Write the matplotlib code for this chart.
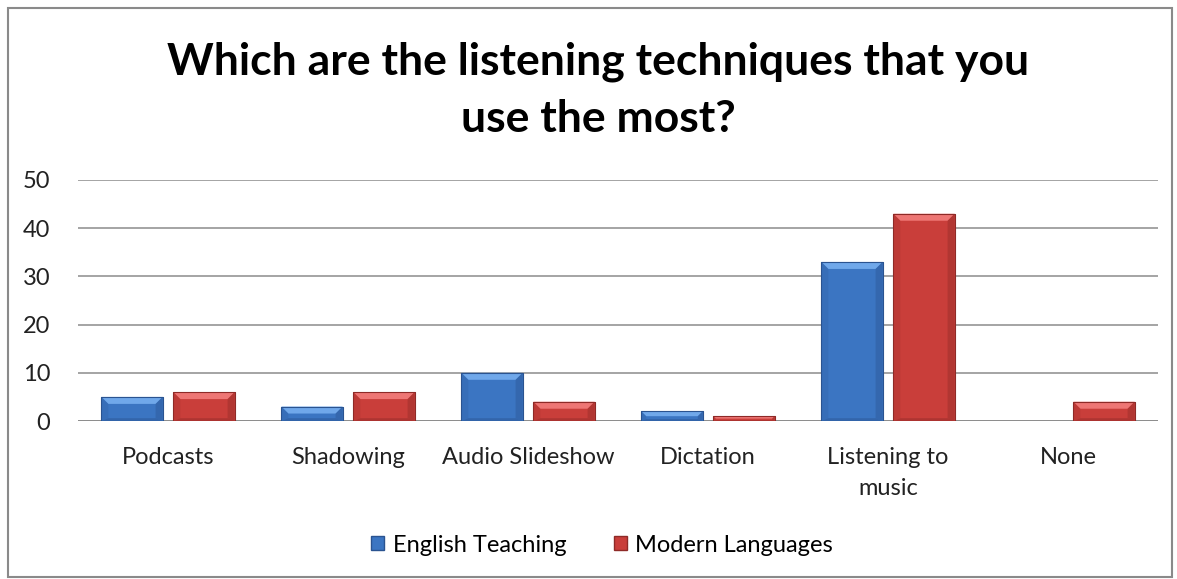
import matplotlib.pyplot as plt
import matplotlib.patches as mpatches
from matplotlib.patches import Polygon
import numpy as np

categories = ["Podcasts", "Shadowing", "Audio Slideshow", "Dictation",
              "Listening to\nmusic", "None"]
english_teaching = [5, 3, 10, 2, 33, 0]
modern_languages = [6, 6, 4, 1, 43, 4]
series_names = ["English Teaching", "Modern Languages"]

# couleurs : base, clair (biseau haut/gauche), sombre (biseau bas/droite)
BLEU = ("#3b75c2", "#70a8ea", "#2a5390")
ROUGE = ("#c93e3a", "#ee7674", "#8e2a27")

plt.rcParams['font.family'] = ['Lato', 'DejaVu Sans']

W, H = 1177, 579
fig = plt.figure(figsize=(W / 100, H / 100), dpi=100)

# cadre gris autour du graphique
fig.patches.append(mpatches.Rectangle((8 / W, 2 / H), 1164 / W, 569 / H,
                                      transform=fig.transFigure, fill=False,
                                      edgecolor="#8a8a8a", linewidth=1.5))

ax = fig.add_axes([78 / W, 158 / H, 1080 / W, 241 / H])
x = np.arange(len(categories))
largeur = 0.34
decalage = 0.2

barres1 = ax.bar(x - decalage, english_teaching, largeur, color=BLEU[0],
                 edgecolor=BLEU[2], linewidth=0.6, zorder=3)
barres2 = ax.bar(x + decalage, modern_languages, largeur, color=ROUGE[0],
                 edgecolor=ROUGE[2], linewidth=0.6, zorder=3)

ax.set_xlim(-0.5, len(categories) - 0.5)
ax.set_ylim(0, 50)

# effet de biseau sur chaque barre
px_x = (len(categories)) / 1080
px_y = 50 / 241
for barres, couleurs in [(barres1, BLEU), (barres2, ROUGE)]:
    for b in barres:
        h = b.get_height()
        if h <= 0:
            continue
        x0 = b.get_x()
        x1 = x0 + b.get_width()
        bpx = min(7, h / px_y / 2)
        bx = bpx * px_x
        by = bpx * px_y
        haut = [(x0, h), (x1, h), (x1 - bx, h - by), (x0 + bx, h - by)]
        bas = [(x0, 0), (x1, 0), (x1 - bx, by * 0.4), (x0 + bx, by * 0.4)]
        gauche = [(x0, 0), (x0 + bx, by * 0.4), (x0 + bx, h - by), (x0, h)]
        droite = [(x1, 0), (x1 - bx, by * 0.4), (x1 - bx, h - by), (x1, h)]
        ax.add_patch(Polygon(haut, closed=True, facecolor=couleurs[1],
                             edgecolor="none", zorder=4))
        ax.add_patch(Polygon(bas, closed=True, facecolor=couleurs[2],
                             edgecolor="none", alpha=0.45, zorder=4))
        ax.add_patch(Polygon(gauche, closed=True, facecolor=couleurs[2],
                             edgecolor="none", alpha=0.2, zorder=4))
        ax.add_patch(Polygon(droite, closed=True, facecolor=couleurs[2],
                             edgecolor="none", alpha=0.4, zorder=4))
        ax.add_patch(mpatches.Rectangle((x0, 0), x1 - x0, h, fill=False,
                                        edgecolor=couleurs[2], linewidth=0.8,
                                        zorder=5))

ax.set_yticks(range(0, 51, 10))
ax.yaxis.grid(True, color="#8c8c8c", linewidth=1.1, zorder=0)
ax.set_axisbelow(True)
for s in ax.spines.values():
    s.set_visible(False)
ax.axhline(0, color="#8c8c8c", linewidth=1.3, zorder=2)

ax.set_xticks(x)
ax.set_xticklabels(categories, fontsize=17, color="#222222", linespacing=1.55)
ax.tick_params(axis="x", length=0, pad=19)
ax.tick_params(axis="y", length=0, pad=20, labelsize=17, labelcolor="#222222")

fig.text(598 / W, 1 - 90 / H,
         "Which are the listening techniques that you\nuse the most?",
         ha="center", va="center", fontsize=32, fontweight="bold",
         linespacing=1.5, color="black")

poignees = [mpatches.Patch(facecolor=BLEU[0], edgecolor=BLEU[2]),
            mpatches.Patch(facecolor=ROUGE[0], edgecolor=ROUGE[2])]
fig.legend(poignees, series_names, loc="center", bbox_to_anchor=(602 / W, 1 - 545 / H),
           ncol=2, frameon=False, fontsize=17, handlelength=0.55, handleheight=0.55,
           handletextpad=0.35, columnspacing=2.0)

fig.savefig("out.png", dpi=100, facecolor="white")
